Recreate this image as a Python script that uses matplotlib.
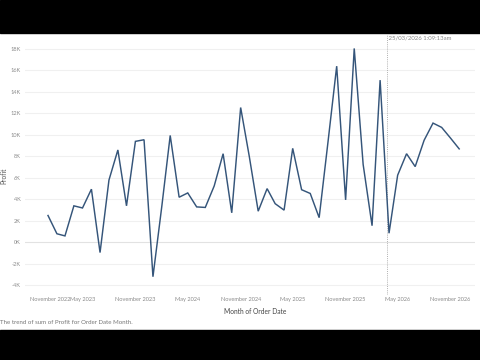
import matplotlib
matplotlib.use("Agg")
import matplotlib.pyplot as plt
import pandas as pd
from matplotlib.patches import Rectangle

plt.rcParams['font.family'] = ['Lato', 'DejaVu Sans']

# monthly profit, Jan 2023 .. Dec 2026 (in K)
months = pd.date_range('2023-01-01', periods=48, freq='MS')
profit_k = [2.5, 0.8, 0.6, 3.4, 3.2, 4.95, -0.95, 5.8, 8.6, 3.4, 9.4, 9.55,
            -3.2, 3.4, 9.95, 4.2, 4.6, 3.3, 3.25, 5.25, 8.25, 2.75, 12.55, 8.0,
            2.9, 5.0, 3.6, 3.0, 8.75, 4.9, 4.55, 2.3, 9.4, 16.4, 3.95, 18.05,
            7.25, 1.55, 15.1, 0.85, 6.25, 8.25, 7.05, 9.5, 11.1, 10.7, 9.7, 8.7]
profit = [v * 1000 for v in profit_k]

y_ticks = list(range(-4000, 18001, 2000))
y_labels = [f"{t // 1000}K" for t in y_ticks]
x_ticks = pd.to_datetime(['2022-11-01', '2023-05-01', '2023-11-01', '2024-05-01',
                          '2024-11-01', '2025-05-01', '2025-11-01', '2026-05-01',
                          '2026-11-01'])
x_labels = [d.strftime('%B %Y') for d in x_ticks]
ref_time = pd.Timestamp('2026-03-25 01:09:13')
ref_label = '25/03/2026 1:09:13am'

fig = plt.figure(figsize=(4.8, 3.6), dpi=100)
ax = fig.add_axes([25 / 480, 65 / 360, 450 / 480, 260 / 360])

ax.plot(months, profit, color='#35557a', linewidth=1.05, solid_joinstyle='miter')

ax.set_ylim(-4900, 19300)
ax.set_xlim(pd.Timestamp('2022-10-13'), pd.Timestamp('2027-01-25'))

ax.set_yticks(y_ticks)
ax.set_yticklabels(y_labels)
ax.set_xticks(x_ticks)
ax.set_xticklabels(x_labels)
ax.get_xticklabels()[0].set_ha('left')
ax.get_xticklabels()[0].set_x(0)

ax.tick_params(axis='both', length=0, labelsize=4.1, labelcolor='#8a8a8a')
ax.tick_params(axis='y', pad=3)
ax.tick_params(axis='x', pad=1.5)

for t in y_ticks:
    ax.axhline(t, color='#f0f0f0' if t != 0 else '#e2e2e2', linewidth=0.8, zorder=0)

for s in ax.spines.values():
    s.set_visible(False)

ax.axvline(ref_time, color='#b0b0b0', linewidth=0.7, linestyle=(0, (1, 1.2)), zorder=1)
ax.text(ref_time, 1.0, ' ' + ref_label, transform=ax.get_xaxis_transform(),
        ha='left', va='top', fontsize=4.3, color='#888888')

ax.set_ylabel('Profit', fontsize=4.8, color='#555555')
ax.yaxis.set_label_coords(-18 / 450, 0.46)
ax.set_xlabel('Month of Order Date', fontsize=4.8, color='#444444')
ax.xaxis.set_label_coords((255 - 25) / 450, -13 / 260)

fig.text(0.0, 38 / 360, 'The trend of sum of Profit for Order Date Month.',
         fontsize=4.4, color='#777777', ha='left', va='center')

# letterbox bars
fig.patches.append(Rectangle((0, 327 / 360), 1, 33 / 360, transform=fig.transFigure,
                             color='black', zorder=10))
fig.patches.append(Rectangle((0, 0), 1, 30 / 360, transform=fig.transFigure,
                             color='black', zorder=10))

fig.savefig('out.png', dpi=100, facecolor='white')
